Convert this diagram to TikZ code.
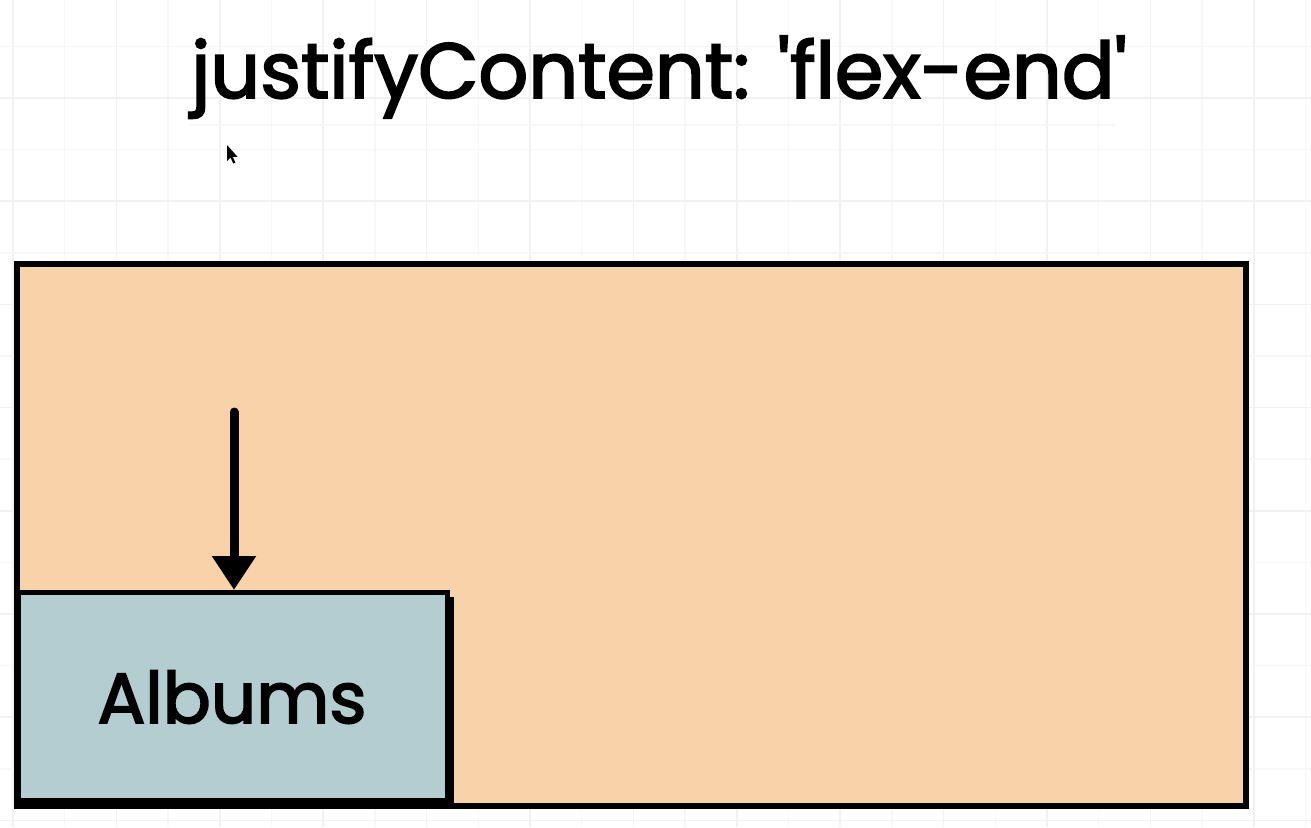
\documentclass[tikz,border=0pt]{standalone}
\usepackage{fontspec}
\setmainfont{Poppins}[FakeBold=2.5]
\usetikzlibrary{arrows.meta}
\definecolor{peach}{HTML}{F8D3A9}
\definecolor{albumblue}{HTML}{B3CDD1}
\definecolor{gridminor}{HTML}{F7F7F7}
\definecolor{gridmajor}{HTML}{F1F1F1}
\tikzset{
  gridline/.style={line width=1.5pt},
  boxline/.style={draw=black, line width=6pt, line join=miter},
  pointer/.style={line width=9pt, line cap=round, -{Triangle[width=42pt,length=34pt]}},
  bigtext/.style={font=\fontsize{78}{84}\selectfont, inner sep=0pt, anchor=base}
}
\begin{document}
\begin{tikzpicture}[x=1pt,y=-1pt]
  \useasboundingbox (0,0) rectangle (1311,827);
  \fill[white] (0,0) rectangle (1311,827);
  % background grid
  \foreach \i in {0,...,25} {
    \pgfmathsetmacro{\xx}{13+51.7*\i}
    \pgfmathtruncatemacro{\odd}{mod(\i,2)}
    \ifnum\odd=0
      \draw[gridline, gridmajor] (\xx,0) -- (\xx,827);
    \else
      \draw[gridline, gridminor] (\xx,0) -- (\xx,827);
    \fi
  }
  \foreach \j in {0,...,16} {
    \pgfmathsetmacro{\yy}{-5.2+51.6*\j}
    \pgfmathtruncatemacro{\odd}{mod(\j,2)}
    \ifnum\odd=0
      \draw[gridline, gridmajor] (0,\yy) -- (1311,\yy);
    \else
      \draw[gridline, gridminor] (0,\yy) -- (1311,\yy);
    \fi
  }
  \draw[line width=1.2pt, gridminor] (190,125) -- (1115,125);
  % title
  \node[bigtext] (title) at (659,98) {justifyContent: \textquotesingle flex-end\textquotesingle};
  % cursor
  \fill[black] (227,145) -- (227,161) -- (230.6,157.6) -- (233.2,163.5) -- (235.4,162.5) -- (232.8,156.8) -- (237.5,156.8) -- cycle;
  % container
  \node[boxline, fill=peach, rectangle, minimum width=1229.5pt, minimum height=542pt, inner sep=0pt] (container) at (631.25,535) {};
  % albums shadow and box
  \fill[black] (22,597) rectangle (454,808);
  \node[boxline, line width=5pt, fill=albumblue, rectangle, minimum width=429pt, minimum height=208pt, inner sep=0pt] (albums) at (232.5,696.5) {};
  \node[bigtext, font=\fontsize{71}{80}\selectfont] (albumslabel) at (232,723) {Albums};
  % arrow
  \coordinate (arrowstart) at (234,412);
  \draw[pointer] (arrowstart) -- (arrowstart |- albums.north);
\end{tikzpicture}
\end{document}
